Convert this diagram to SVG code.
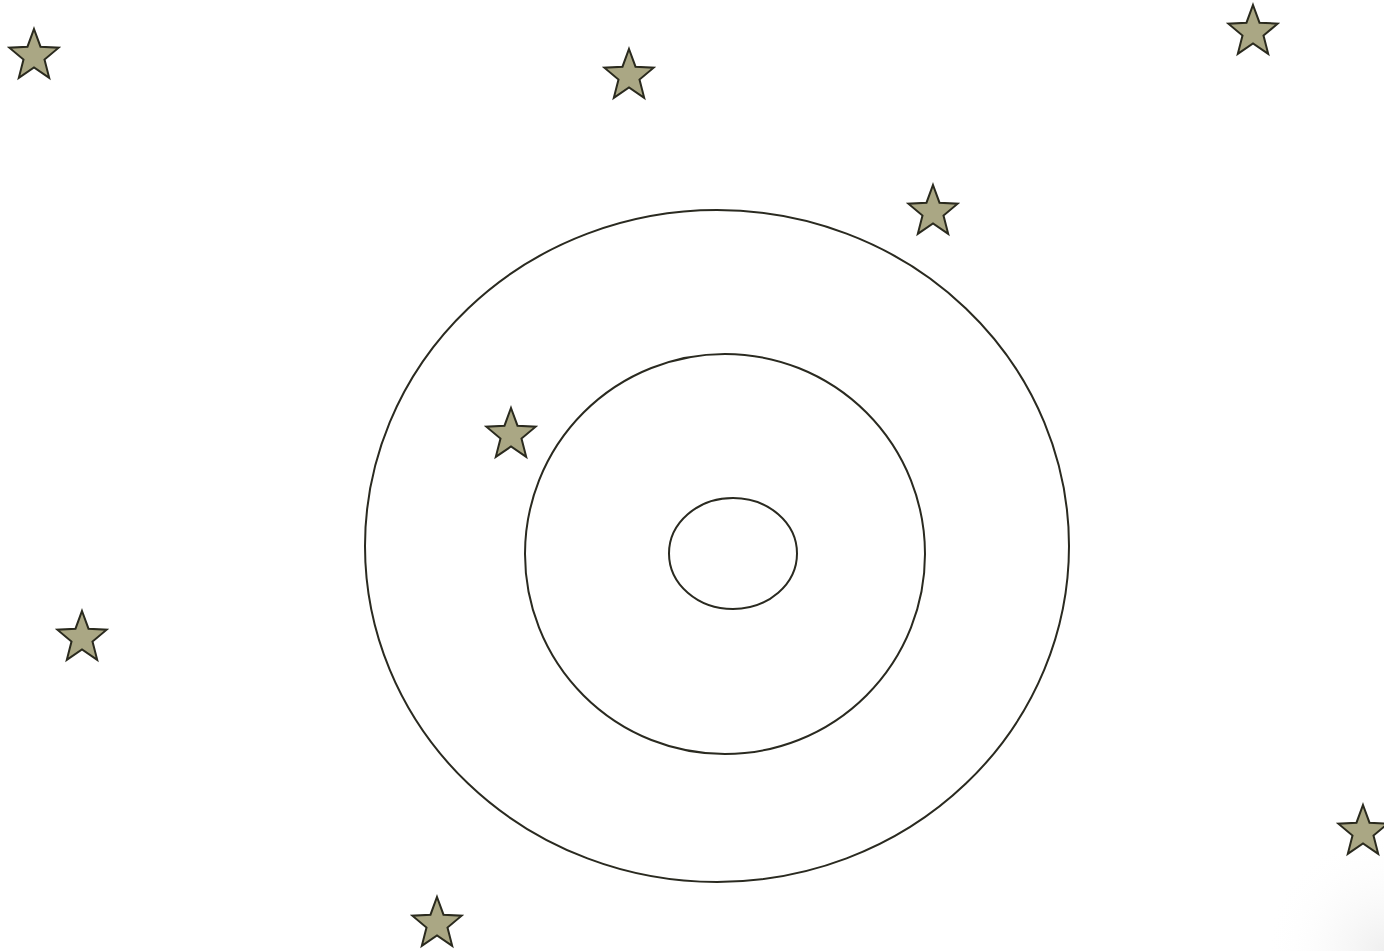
<svg xmlns="http://www.w3.org/2000/svg" width="1384" height="951" viewBox="0 0 1384 951">
<style>
.ring{fill:none;stroke:#2a2a20;stroke-width:2}
.star{fill:#aaa784;stroke:#2a2a1e;stroke-width:2;stroke-linejoin:miter}
</style>
<defs>
<radialGradient id="corner" cx="1384" cy="951" r="120" gradientUnits="userSpaceOnUse">
<stop offset="0" stop-color="#efefef"/>
<stop offset="1" stop-color="#ffffff" stop-opacity="0"/>
</radialGradient>
<path id="s" d="M0,-27 L6.5,-9.3 L24.65,-8.34 L10.5,3.55 L15.2,21.84 L0,11.5 L-15.2,21.84 L-10.5,3.55 L-24.65,-8.34 L-6.5,-9.3 Z"/>
</defs>
<rect width="1384" height="951" fill="#ffffff"/>
<rect x="1250" y="820" width="134" height="131" fill="url(#corner)"/>
<g id="rings">
<ellipse id="outer" class="ring" cx="717" cy="546" rx="352" ry="336"/>
<ellipse id="middle" class="ring" cx="725" cy="554" rx="200" ry="200"/>
<ellipse id="inner" class="ring" cx="733" cy="553.5" rx="64" ry="55.5"/>
</g>
<g id="stars">
<use id="star1" class="star" href="#s" x="34" y="56"/>
<use id="star2" class="star" href="#s" x="629" y="76"/>
<use id="star3" class="star" href="#s" x="1253" y="32"/>
<use id="star4" class="star" href="#s" x="933" y="212"/>
<use id="star5" class="star" href="#s" x="511" y="435"/>
<use id="star6" class="star" href="#s" x="82" y="638"/>
<use id="star7" class="star" href="#s" x="1363" y="832"/>
<use id="star8" class="star" href="#s" x="437" y="924"/>
</g>
</svg>
